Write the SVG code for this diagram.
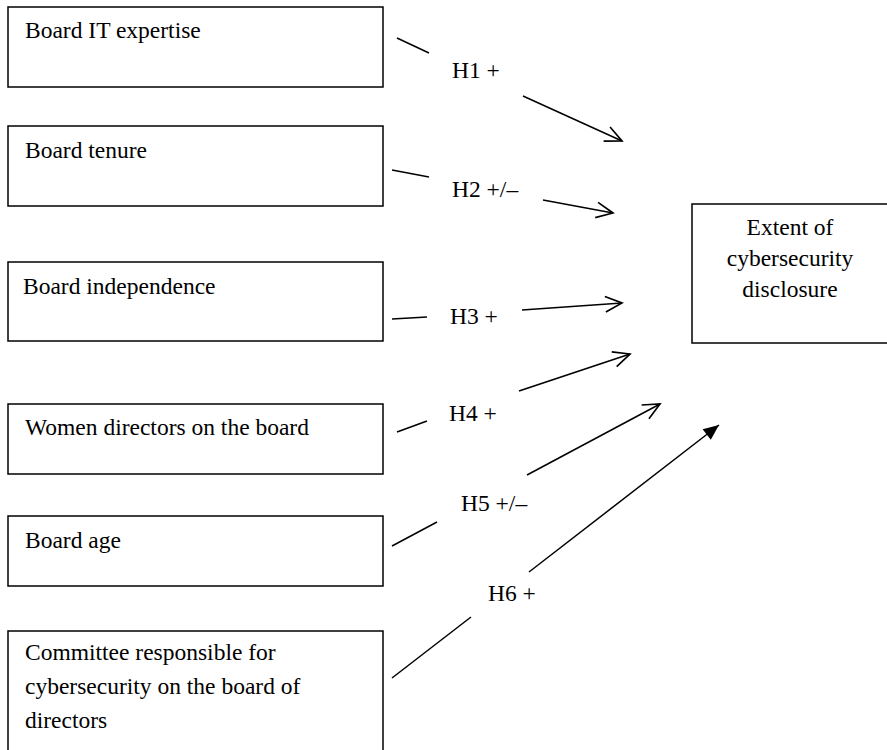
<svg xmlns="http://www.w3.org/2000/svg" width="887" height="750" viewBox="0 0 887 750">
<defs>
<style>
.box{fill:#fff;stroke:#000;stroke-width:1.5}
.t{font-family:"Liberation Serif","Times New Roman",serif;font-size:23.5px;fill:#000}
.c line{stroke:#000;stroke-width:1.5;fill:none}
</style>
<marker id="open" markerUnits="userSpaceOnUse" markerWidth="20" markerHeight="20" viewBox="-16 -9 18 18" refX="0" refY="0" orient="auto">
<path d="M-15,-7 L0,0 L-15,7" fill="none" stroke="#000" stroke-width="1.5"/>
</marker>
<marker id="solid" markerUnits="userSpaceOnUse" markerWidth="20" markerHeight="20" viewBox="-16 -9 18 18" refX="0" refY="0" orient="auto">
<path d="M-14,-6 L0,0 L-14,6 Z" fill="#000"/>
</marker>
</defs>
<rect width="887" height="750" fill="#fff"/>
<g id="n1"><rect class="box" x="8" y="7" width="375" height="80"/><text class="t" x="25" y="38">Board IT expertise</text></g>
<g id="n2"><rect class="box" x="8" y="126" width="375" height="80"/><text class="t" x="25" y="158">Board tenure</text></g>
<g id="n3"><rect class="box" x="8" y="262" width="375" height="79"/><text class="t" x="23" y="294">Board independence</text></g>
<g id="n4"><rect class="box" x="8" y="404" width="375" height="70"/><text class="t" x="25" y="435">Women directors on the board</text></g>
<g id="n5"><rect class="box" x="8" y="516" width="375" height="70"/><text class="t" x="25" y="548">Board age</text></g>
<g id="n6"><rect class="box" x="8" y="631" width="375" height="130"/><text class="t" x="25" y="660">Committee responsible for</text><text class="t" x="25" y="694">cybersecurity on the board of</text><text class="t" x="25" y="728">directors</text></g>
<g id="target"><rect class="box" x="692" y="204" width="200" height="139"/><text class="t" x="790" y="235" text-anchor="middle">Extent of</text><text class="t" x="790" y="266" text-anchor="middle">cybersecurity</text><text class="t" x="790" y="297" text-anchor="middle">disclosure</text></g>
<g id="connectors" class="c">
<line x1="397" y1="38" x2="429" y2="53"/>
<line x1="523" y1="96" x2="622" y2="141" marker-end="url(#open)"/>
<line x1="392" y1="170" x2="429" y2="177"/>
<line x1="543" y1="200" x2="613" y2="213" marker-end="url(#open)"/>
<line x1="392" y1="319" x2="427" y2="317"/>
<line x1="522" y1="310" x2="622" y2="303" marker-end="url(#open)"/>
<line x1="397" y1="432" x2="427" y2="421"/>
<line x1="519" y1="391" x2="630" y2="354" marker-end="url(#open)"/>
<line x1="392" y1="546" x2="437" y2="522"/>
<line x1="527" y1="475" x2="660" y2="404" marker-end="url(#open)"/>
<line x1="392" y1="678" x2="471" y2="617"/>
<line x1="529" y1="572" x2="719" y2="425" marker-end="url(#solid)"/>
</g>
<g id="labels">
<text class="t" x="452" y="78">H1 +</text>
<text class="t" x="452" y="197">H2 +/–</text>
<text class="t" x="450" y="324">H3 +</text>
<text class="t" x="449" y="421">H4 +</text>
<text class="t" x="461" y="511">H5 +/–</text>
<text class="t" x="488" y="601">H6 +</text>
</g>
</svg>
